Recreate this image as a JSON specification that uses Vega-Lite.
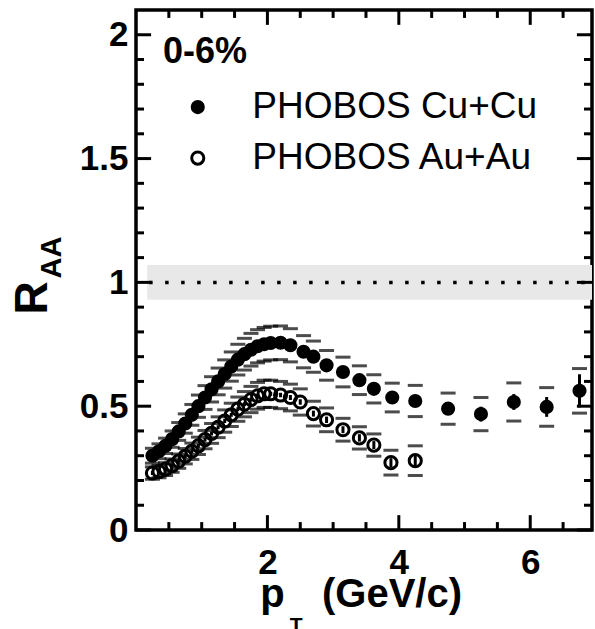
{
  "$schema": "https://vega.github.io/schema/vega-lite/v6.json",
  "width": 456,
  "height": 520,
  "autosize": {"type": "none"},
  "padding": {"left": 136, "top": 10, "right": 3, "bottom": 99},
  "background": "white",
  "config": {"view": {"stroke": "black", "strokeWidth": 3.5}},
  "datasets": {
    "pts": [
      {"s": "Cu", "pt": 0.25, "r": 0.300, "lo": 0.270, "hi": 0.330, "slo": 0.290, "shi": 0.310},
      {"s": "Cu", "pt": 0.35, "r": 0.318, "lo": 0.288, "hi": 0.348, "slo": 0.308, "shi": 0.328},
      {"s": "Cu", "pt": 0.45, "r": 0.340, "lo": 0.309, "hi": 0.371, "slo": 0.330, "shi": 0.350},
      {"s": "Cu", "pt": 0.55, "r": 0.367, "lo": 0.334, "hi": 0.400, "slo": 0.357, "shi": 0.377},
      {"s": "Cu", "pt": 0.65, "r": 0.398, "lo": 0.362, "hi": 0.434, "slo": 0.388, "shi": 0.408},
      {"s": "Cu", "pt": 0.75, "r": 0.430, "lo": 0.391, "hi": 0.469, "slo": 0.420, "shi": 0.440},
      {"s": "Cu", "pt": 0.85, "r": 0.465, "lo": 0.423, "hi": 0.507, "slo": 0.455, "shi": 0.475},
      {"s": "Cu", "pt": 0.95, "r": 0.500, "lo": 0.455, "hi": 0.545, "slo": 0.490, "shi": 0.510},
      {"s": "Cu", "pt": 1.05, "r": 0.535, "lo": 0.487, "hi": 0.583, "slo": 0.525, "shi": 0.545},
      {"s": "Cu", "pt": 1.15, "r": 0.568, "lo": 0.517, "hi": 0.619, "slo": 0.558, "shi": 0.578},
      {"s": "Cu", "pt": 1.25, "r": 0.600, "lo": 0.546, "hi": 0.654, "slo": 0.590, "shi": 0.610},
      {"s": "Cu", "pt": 1.35, "r": 0.630, "lo": 0.573, "hi": 0.687, "slo": 0.620, "shi": 0.640},
      {"s": "Cu", "pt": 1.45, "r": 0.660, "lo": 0.601, "hi": 0.719, "slo": 0.650, "shi": 0.670},
      {"s": "Cu", "pt": 1.55, "r": 0.688, "lo": 0.626, "hi": 0.750, "slo": 0.678, "shi": 0.698},
      {"s": "Cu", "pt": 1.65, "r": 0.710, "lo": 0.646, "hi": 0.774, "slo": 0.700, "shi": 0.720},
      {"s": "Cu", "pt": 1.75, "r": 0.728, "lo": 0.662, "hi": 0.794, "slo": 0.718, "shi": 0.738},
      {"s": "Cu", "pt": 1.85, "r": 0.742, "lo": 0.675, "hi": 0.809, "slo": 0.732, "shi": 0.752},
      {"s": "Cu", "pt": 1.95, "r": 0.750, "lo": 0.682, "hi": 0.818, "slo": 0.740, "shi": 0.760},
      {"s": "Cu", "pt": 2.05, "r": 0.755, "lo": 0.687, "hi": 0.823, "slo": 0.745, "shi": 0.765},
      {"s": "Cu", "pt": 2.20, "r": 0.756, "lo": 0.688, "hi": 0.824, "slo": 0.744, "shi": 0.768},
      {"s": "Cu", "pt": 2.35, "r": 0.746, "lo": 0.679, "hi": 0.813, "slo": 0.734, "shi": 0.758},
      {"s": "Cu", "pt": 2.55, "r": 0.720, "lo": 0.655, "hi": 0.785, "slo": 0.707, "shi": 0.733},
      {"s": "Cu", "pt": 2.70, "r": 0.700, "lo": 0.637, "hi": 0.763, "slo": 0.686, "shi": 0.714},
      {"s": "Cu", "pt": 2.90, "r": 0.665, "lo": 0.605, "hi": 0.725, "slo": 0.650, "shi": 0.680},
      {"s": "Cu", "pt": 3.15, "r": 0.638, "lo": 0.578, "hi": 0.698, "slo": 0.622, "shi": 0.654},
      {"s": "Cu", "pt": 3.40, "r": 0.605, "lo": 0.547, "hi": 0.663, "slo": 0.588, "shi": 0.622},
      {"s": "Cu", "pt": 3.62, "r": 0.570, "lo": 0.513, "hi": 0.627, "slo": 0.552, "shi": 0.588},
      {"s": "Cu", "pt": 3.90, "r": 0.535, "lo": 0.477, "hi": 0.593, "slo": 0.515, "shi": 0.555},
      {"s": "Cu", "pt": 4.25, "r": 0.521, "lo": 0.458, "hi": 0.584, "slo": 0.498, "shi": 0.544},
      {"s": "Cu", "pt": 4.75, "r": 0.490, "lo": 0.427, "hi": 0.553, "slo": 0.465, "shi": 0.515},
      {"s": "Cu", "pt": 5.25, "r": 0.468, "lo": 0.401, "hi": 0.535, "slo": 0.438, "shi": 0.498},
      {"s": "Cu", "pt": 5.75, "r": 0.517, "lo": 0.440, "hi": 0.594, "slo": 0.485, "shi": 0.549},
      {"s": "Cu", "pt": 6.25, "r": 0.497, "lo": 0.419, "hi": 0.575, "slo": 0.457, "shi": 0.537},
      {"s": "Cu", "pt": 6.75, "r": 0.562, "lo": 0.472, "hi": 0.652, "slo": 0.495, "shi": 0.629},
      {"s": "Au", "pt": 0.25, "r": 0.230, "lo": 0.205, "hi": 0.255, "slo": 0.222, "shi": 0.238},
      {"s": "Au", "pt": 0.35, "r": 0.236, "lo": 0.211, "hi": 0.261, "slo": 0.228, "shi": 0.244},
      {"s": "Au", "pt": 0.45, "r": 0.246, "lo": 0.220, "hi": 0.272, "slo": 0.238, "shi": 0.254},
      {"s": "Au", "pt": 0.55, "r": 0.260, "lo": 0.233, "hi": 0.287, "slo": 0.252, "shi": 0.268},
      {"s": "Au", "pt": 0.65, "r": 0.278, "lo": 0.249, "hi": 0.307, "slo": 0.270, "shi": 0.286},
      {"s": "Au", "pt": 0.75, "r": 0.298, "lo": 0.267, "hi": 0.329, "slo": 0.290, "shi": 0.306},
      {"s": "Au", "pt": 0.85, "r": 0.318, "lo": 0.285, "hi": 0.351, "slo": 0.310, "shi": 0.326},
      {"s": "Au", "pt": 0.95, "r": 0.340, "lo": 0.305, "hi": 0.375, "slo": 0.332, "shi": 0.348},
      {"s": "Au", "pt": 1.05, "r": 0.365, "lo": 0.328, "hi": 0.402, "slo": 0.357, "shi": 0.373},
      {"s": "Au", "pt": 1.15, "r": 0.390, "lo": 0.350, "hi": 0.430, "slo": 0.382, "shi": 0.398},
      {"s": "Au", "pt": 1.25, "r": 0.415, "lo": 0.373, "hi": 0.457, "slo": 0.407, "shi": 0.423},
      {"s": "Au", "pt": 1.35, "r": 0.440, "lo": 0.395, "hi": 0.485, "slo": 0.432, "shi": 0.448},
      {"s": "Au", "pt": 1.45, "r": 0.465, "lo": 0.418, "hi": 0.512, "slo": 0.457, "shi": 0.473},
      {"s": "Au", "pt": 1.55, "r": 0.488, "lo": 0.439, "hi": 0.537, "slo": 0.480, "shi": 0.496},
      {"s": "Au", "pt": 1.65, "r": 0.508, "lo": 0.457, "hi": 0.559, "slo": 0.500, "shi": 0.516},
      {"s": "Au", "pt": 1.75, "r": 0.527, "lo": 0.474, "hi": 0.580, "slo": 0.519, "shi": 0.535},
      {"s": "Au", "pt": 1.85, "r": 0.542, "lo": 0.488, "hi": 0.596, "slo": 0.534, "shi": 0.550},
      {"s": "Au", "pt": 1.95, "r": 0.550, "lo": 0.495, "hi": 0.605, "slo": 0.542, "shi": 0.558},
      {"s": "Au", "pt": 2.05, "r": 0.550, "lo": 0.495, "hi": 0.605, "slo": 0.542, "shi": 0.558},
      {"s": "Au", "pt": 2.20, "r": 0.545, "lo": 0.490, "hi": 0.600, "slo": 0.536, "shi": 0.554},
      {"s": "Au", "pt": 2.35, "r": 0.535, "lo": 0.481, "hi": 0.589, "slo": 0.525, "shi": 0.545},
      {"s": "Au", "pt": 2.50, "r": 0.517, "lo": 0.464, "hi": 0.570, "slo": 0.506, "shi": 0.528},
      {"s": "Au", "pt": 2.70, "r": 0.470, "lo": 0.420, "hi": 0.520, "slo": 0.458, "shi": 0.482},
      {"s": "Au", "pt": 2.90, "r": 0.445, "lo": 0.397, "hi": 0.493, "slo": 0.432, "shi": 0.458},
      {"s": "Au", "pt": 3.15, "r": 0.405, "lo": 0.359, "hi": 0.451, "slo": 0.391, "shi": 0.419},
      {"s": "Au", "pt": 3.40, "r": 0.372, "lo": 0.327, "hi": 0.417, "slo": 0.357, "shi": 0.387},
      {"s": "Au", "pt": 3.62, "r": 0.343, "lo": 0.298, "hi": 0.388, "slo": 0.327, "shi": 0.359},
      {"s": "Au", "pt": 3.88, "r": 0.272, "lo": 0.222, "hi": 0.322, "slo": 0.254, "shi": 0.290},
      {"s": "Au", "pt": 4.25, "r": 0.280, "lo": 0.220, "hi": 0.340, "slo": 0.258, "shi": 0.302}
    ],
    "xt": [
      {"v": 0.5, "major": false}, {"v": 1.0, "major": false}, {"v": 1.5, "major": false},
      {"v": 2.0, "major": true}, {"v": 2.5, "major": false}, {"v": 3.0, "major": false},
      {"v": 3.5, "major": false}, {"v": 4.0, "major": true}, {"v": 4.5, "major": false},
      {"v": 5.0, "major": false}, {"v": 5.5, "major": false}, {"v": 6.0, "major": true},
      {"v": 6.5, "major": false}
    ],
    "yt": [
      {"v": 0.0, "major": true}, {"v": 0.1, "major": false}, {"v": 0.2, "major": false}, {"v": 0.3, "major": false}, {"v": 0.4, "major": false},
      {"v": 0.5, "major": true}, {"v": 0.6, "major": false}, {"v": 0.7, "major": false}, {"v": 0.8, "major": false}, {"v": 0.9, "major": false},
      {"v": 1.0, "major": true}, {"v": 1.1, "major": false}, {"v": 1.2, "major": false}, {"v": 1.3, "major": false}, {"v": 1.4, "major": false},
      {"v": 1.5, "major": true}, {"v": 1.6, "major": false}, {"v": 1.7, "major": false}, {"v": 1.8, "major": false}, {"v": 1.9, "major": false},
      {"v": 2.0, "major": true}
    ],
    "legend": [
      {"s": "Cu", "x": 0.94, "y": 1.708, "tx": 1.77, "label": "PHOBOS Cu+Cu"},
      {"s": "Au", "x": 0.94, "y": 1.502, "tx": 1.77, "label": "PHOBOS Au+Au"}
    ],
    "leftlabels": [
      {"x": 0.41, "y": 1.886, "t": "0-6%", "size": 36},
      {"x": 1.89, "y": -0.311, "t": "p", "size": 40},
      {"x": 2.83, "y": -0.311, "t": "(GeV/c)", "size": 40}
    ],
    "sublabels": [
      {"x": 2.34, "y": -0.345, "t": "T", "size": 21}
    ],
    "ylabels": [
      {"x": -1.57, "y": 0.937, "t": "R", "size": 46},
      {"x": -1.28, "y": 1.10, "t": "AA", "size": 29}
    ]
  },
  "layer": [
    {
      "data": {"values": [{"x1": 0.17, "x2": 6.94, "y1": 0.93, "y2": 1.07}]},
      "mark": {"type": "rect", "color": "#e8e8e8"},
      "encoding": {
        "x": {"field": "x1", "type": "quantitative", "scale": {"domain": [0, 6.94], "nice": false, "zero": false},
          "axis": {"orient": "bottom", "values": [2, 4, 6], "format": "d", "ticks": false, "tickSize": 0,
            "domain": false, "grid": false, "title": null,
            "labelFont": "Liberation Sans", "labelFontWeight": "bold", "labelFontSize": 35, "labelColor": "black",
            "labelPadding": 15, "labelFlush": false, "labelOverlap": false}},
        "x2": {"field": "x2"},
        "y": {"field": "y1", "type": "quantitative", "scale": {"domain": [0, 2.1], "nice": false, "zero": false},
          "axis": {"orient": "left", "values": [0, 0.5, 1, 1.5, 2], "format": "~g", "ticks": false, "tickSize": 0,
            "domain": false, "grid": false, "title": null,
            "labelFont": "Liberation Sans", "labelFontWeight": "bold", "labelFontSize": 35, "labelColor": "black",
            "labelPadding": 8, "labelFlush": false, "labelOverlap": false}},
        "y2": {"field": "y2"}
      }
    },
    {
      "data": {"values": [{"x1": 0.2, "x2": 6.94, "y": 1}]},
      "mark": {"type": "rule", "color": "black", "strokeWidth": 3.5, "strokeDash": [3.5, 12.5], "strokeCap": "butt"},
      "encoding": {
        "x": {"field": "x1", "type": "quantitative"},
        "x2": {"field": "x2"},
        "y": {"field": "y", "type": "quantitative"}
      }
    },
    {
      "data": {"name": "xt"},
      "transform": [{"filter": "datum.major"}],
      "mark": {"type": "rule", "color": "black", "strokeWidth": 3},
      "encoding": {
        "x": {"field": "v", "type": "quantitative"},
        "y": {"datum": 0},
        "y2": {"datum": 0.06}
      }
    },
    {
      "data": {"name": "xt"},
      "transform": [{"filter": "datum.major"}],
      "mark": {"type": "rule", "color": "black", "strokeWidth": 3},
      "encoding": {
        "x": {"field": "v", "type": "quantitative"},
        "y": {"datum": 2.1},
        "y2": {"datum": 2.04}
      }
    },
    {
      "data": {"name": "xt"},
      "transform": [{"filter": "!datum.major"}],
      "mark": {"type": "rule", "color": "black", "strokeWidth": 3},
      "encoding": {
        "x": {"field": "v", "type": "quantitative"},
        "y": {"datum": 0},
        "y2": {"datum": 0.032}
      }
    },
    {
      "data": {"name": "xt"},
      "transform": [{"filter": "!datum.major"}],
      "mark": {"type": "rule", "color": "black", "strokeWidth": 3},
      "encoding": {
        "x": {"field": "v", "type": "quantitative"},
        "y": {"datum": 2.1},
        "y2": {"datum": 2.068}
      }
    },
    {
      "data": {"name": "yt"},
      "transform": [{"filter": "datum.major"}],
      "mark": {"type": "rule", "color": "black", "strokeWidth": 3},
      "encoding": {
        "y": {"field": "v", "type": "quantitative"},
        "x": {"datum": 0},
        "x2": {"datum": 0.23}
      }
    },
    {
      "data": {"name": "yt"},
      "transform": [{"filter": "datum.major"}],
      "mark": {"type": "rule", "color": "black", "strokeWidth": 3},
      "encoding": {
        "y": {"field": "v", "type": "quantitative"},
        "x": {"datum": 6.94},
        "x2": {"datum": 6.71}
      }
    },
    {
      "data": {"name": "yt"},
      "transform": [{"filter": "!datum.major"}],
      "mark": {"type": "rule", "color": "black", "strokeWidth": 3},
      "encoding": {
        "y": {"field": "v", "type": "quantitative"},
        "x": {"datum": 0},
        "x2": {"datum": 0.122}
      }
    },
    {
      "data": {"name": "yt"},
      "transform": [{"filter": "!datum.major"}],
      "mark": {"type": "rule", "color": "black", "strokeWidth": 3},
      "encoding": {
        "y": {"field": "v", "type": "quantitative"},
        "x": {"datum": 6.94},
        "x2": {"datum": 6.818}
      }
    },
    {
      "data": {"name": "pts"},
      "mark": {"type": "tick", "orient": "horizontal", "color": "black", "thickness": 3, "size": 15},
      "encoding": {
        "x": {"field": "pt", "type": "quantitative"},
        "y": {"field": "lo", "type": "quantitative"}
      }
    },
    {
      "data": {"name": "pts"},
      "mark": {"type": "tick", "orient": "horizontal", "color": "black", "thickness": 3, "size": 15},
      "encoding": {
        "x": {"field": "pt", "type": "quantitative"},
        "y": {"field": "hi", "type": "quantitative"}
      }
    },
    {
      "data": {"name": "pts"},
      "mark": {"type": "rule", "color": "black", "strokeWidth": 3},
      "encoding": {
        "x": {"field": "pt", "type": "quantitative"},
        "y": {"field": "slo", "type": "quantitative"},
        "y2": {"field": "shi"}
      }
    },
    {
      "data": {"name": "pts"},
      "transform": [{"filter": "datum.s === 'Au'"}],
      "mark": {"type": "point", "shape": "circle", "filled": false, "color": "black", "strokeWidth": 3, "size": 147, "opacity": 1},
      "encoding": {
        "x": {"field": "pt", "type": "quantitative"},
        "y": {"field": "r", "type": "quantitative"}
      }
    },
    {
      "data": {"name": "pts"},
      "transform": [{"filter": "datum.s === 'Cu'"}],
      "mark": {"type": "point", "shape": "circle", "filled": true, "color": "black", "size": 200, "opacity": 1},
      "encoding": {
        "x": {"field": "pt", "type": "quantitative"},
        "y": {"field": "r", "type": "quantitative"}
      }
    },
    {
      "data": {"name": "legend"},
      "transform": [{"filter": "datum.s === 'Cu'"}],
      "mark": {"type": "point", "shape": "circle", "filled": true, "color": "black", "size": 200, "opacity": 1},
      "encoding": {
        "x": {"field": "x", "type": "quantitative"},
        "y": {"field": "y", "type": "quantitative"}
      }
    },
    {
      "data": {"name": "legend"},
      "transform": [{"filter": "datum.s === 'Au'"}],
      "mark": {"type": "point", "shape": "circle", "filled": false, "color": "black", "strokeWidth": 3, "size": 147, "opacity": 1},
      "encoding": {
        "x": {"field": "x", "type": "quantitative"},
        "y": {"field": "y", "type": "quantitative"}
      }
    },
    {
      "data": {"name": "legend"},
      "mark": {"type": "text", "font": "Liberation Sans", "fontSize": 37, "color": "black", "align": "left", "baseline": "middle"},
      "encoding": {
        "x": {"field": "tx", "type": "quantitative"},
        "y": {"field": "y", "type": "quantitative"},
        "text": {"field": "label"}
      }
    },
    {
      "data": {"name": "leftlabels"},
      "mark": {"type": "text", "font": "Liberation Sans", "fontWeight": "bold", "color": "black", "align": "left", "baseline": "alphabetic", "clip": false},
      "encoding": {
        "x": {"field": "x", "type": "quantitative"},
        "y": {"field": "y", "type": "quantitative"},
        "text": {"field": "t"},
        "size": {"field": "size", "type": "quantitative", "scale": null, "legend": null}
      }
    },
    {
      "data": {"name": "sublabels"},
      "mark": {"type": "text", "font": "Liberation Sans", "fontWeight": "bold", "color": "black", "align": "left", "baseline": "top", "clip": false},
      "encoding": {
        "x": {"field": "x", "type": "quantitative"},
        "y": {"field": "y", "type": "quantitative"},
        "text": {"field": "t"},
        "size": {"field": "size", "type": "quantitative", "scale": null, "legend": null}
      }
    },
    {
      "data": {"name": "ylabels"},
      "mark": {"type": "text", "font": "Liberation Sans", "fontWeight": "bold", "color": "black", "align": "center", "baseline": "middle", "angle": 270, "clip": false},
      "encoding": {
        "x": {"field": "x", "type": "quantitative"},
        "y": {"field": "y", "type": "quantitative"},
        "text": {"field": "t"},
        "size": {"field": "size", "type": "quantitative", "scale": null, "legend": null}
      }
    }
  ]
}
